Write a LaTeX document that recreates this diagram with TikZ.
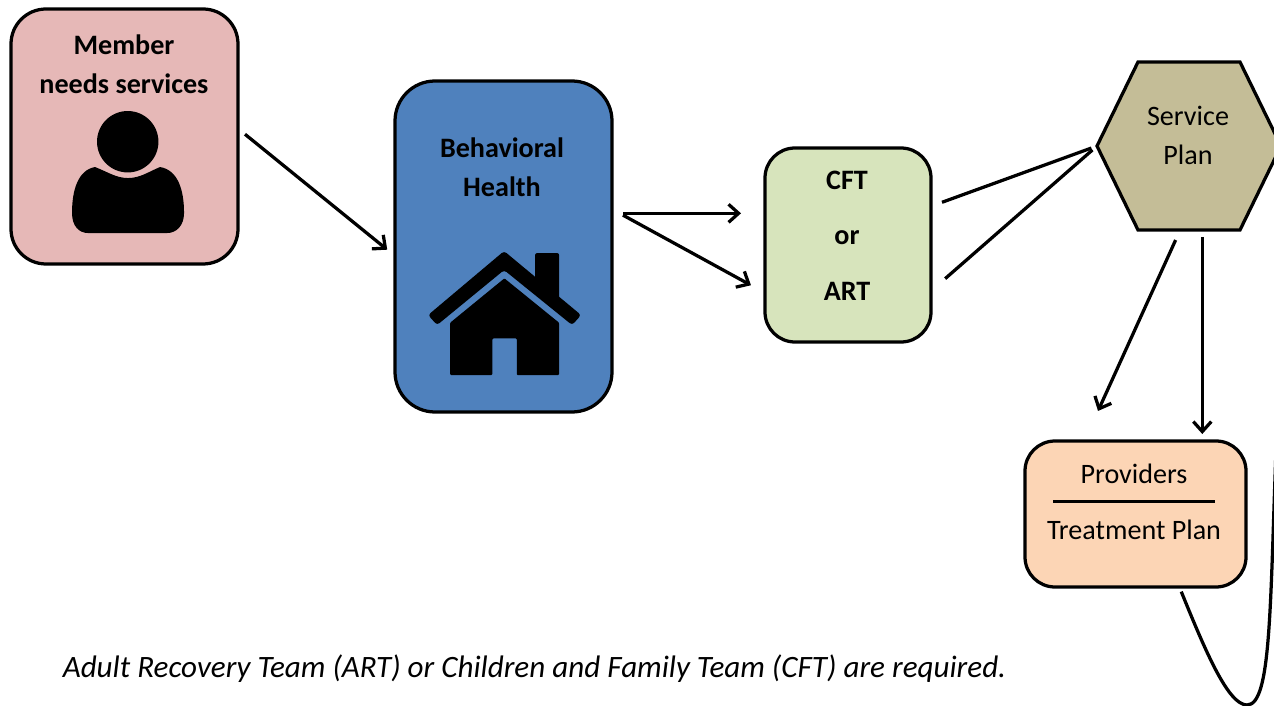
\documentclass[tikz,border=0pt]{standalone}
\usepackage{fontspec}
\setmainfont{Carlito}
\usetikzlibrary{arrows.meta, positioning}
\definecolor{memberpink}{HTML}{E6B8B7}
\definecolor{healthblue}{HTML}{4F81BD}
\definecolor{teamgreen}{HTML}{D7E4BC}
\definecolor{plantan}{HTML}{C4BD97}
\definecolor{providerpeach}{HTML}{FCD5B5}
\tikzset{
	>={Straight Barb[length=0.2cm,width=0.36cm,line width=0.065cm]},
	box/.style={draw,line width=0.065cm,rounded corners=0.7cm,outer sep=0pt,inner sep=0pt},
	link/.style={line width=0.065cm},
	boldtext/.style={align=center,font=\fontsize{16}{22.2}\selectfont\bfseries},
	plaintext/.style={align=center,font=\fontsize{16}{22.2}\selectfont}
}

\begin{document}
\begin{tikzpicture}
	\path[use as bounding box,clip] (0cm,0cm) rectangle (25.48cm,-14.12cm);

	\draw (2.49cm,-2.73cm) node[box,fill=memberpink,minimum width=4.54cm,minimum height=5.1cm] (member){}
	(10.07cm,-4.93cm) node[box,fill=healthblue,rounded corners=0.8cm,minimum width=4.34cm,minimum height=6.62cm] (behavioral){}
	(16.96cm,-4.9cm) node[box,fill=teamgreen,rounded corners=0.6cm,minimum width=3.32cm,minimum height=3.88cm] (cft){}
	(23.78cm,-2.92cm) node[outer sep=0pt,inner sep=0pt,minimum width=3.68cm,minimum height=3.36cm] (service){}
	(22.71cm,-10.28cm) node[box,fill=providerpeach,rounded corners=0.6cm,minimum width=4.42cm,minimum height=2.92cm] (providers){};

	% hexagon round the service node
	\draw[link,fill=plantan] (service.west) -- ([xshift=0.82cm]service.north west) -- ([xshift=-0.82cm]service.north east) -- (service.east)
	-- ([xshift=-0.82cm]service.south east) -- ([xshift=0.82cm]service.south west) -- cycle;

	\node[boldtext] (membertext) at (2.48cm,-1.28cm) {Member\\needs services};
	\node[boldtext] (behavioraltext) at (10.04cm,-3.34cm) {Behavioral\\Health};
	\node[boldtext] (cfttext) at (16.94cm,-3.6cm) {CFT};
	\node[boldtext] (ortext) at (16.94cm,-4.76cm) {or};
	\node[boldtext] (arttext) at (16.94cm,-5.82cm) {ART};
	\node[plaintext] (servicetext) at (23.76cm,-2.71cm) {Service\\Plan};
	\node[plaintext] (providerstext) at (22.68cm,-9.48cm) {Providers};
	\node[fill=black,inner sep=0pt,minimum width=3.24cm,minimum height=0.05cm] (divider) at (22.68cm,-10.03cm) {};
	\node[plaintext] (treatmenttext) at (22.68cm,-10.6cm) {Treatment Plan};
	\node[plaintext,font=\fontsize{17.7}{22.2}\selectfont\itshape] (caption) at (10.69cm,-13.38cm) {Adult Recovery Team (ART) or Children and Family Team (CFT) are required.};

	% person and house
	\begin{scope}[x=0.02cm,y=-0.02cm]
		\fill (127.7,141.7) circle (30.7);
		\fill (95,167) .. controls (108,172) and (116,178) .. (128,178)
		.. controls (140,178) and (148,172) .. (160,167)
		.. controls (178,170) and (184,190) .. (184,213)
		.. controls (184,226) and (176,233) .. (167,233)
		-- (88,233) .. controls (79,233) and (72,226) .. (72,213)
		.. controls (72,190) and (78,170) .. (95,167) -- cycle;
		\fill[rounded corners=0.04cm] (535,253) -- (559,253) -- (559,300) -- (535,280) -- cycle;
		\fill[rounded corners=0.06cm] (428,315) -- (504,251) -- (581,315) -- (572,325) -- (504,270) -- (437,325) -- cycle;
		\fill[rounded corners=0.02cm] (504.3,278.3) -- (559,322.7) -- (559,375) -- (516.7,375) -- (516.7,338.3) -- (492.3,338.3) -- (492.3,375) -- (450,375) -- (450,322.7) -- cycle;
	\end{scope}

	\draw[->,link,shorten <=0.18cm,shorten >=0.2cm] (member.4.3) -- (behavioral.185.8);
	\draw[->,link,shorten <=0.22cm,shorten >=0.48cm] (behavioral.17.2) -- (behavioral.17.2 -| cft.west);
	\draw[->,link,shorten <=0.25cm,shorten >=0.32cm] (behavioral.19.6) -- (cft.210);
	\draw[link,shorten <=0.234cm,shorten >=0.12cm] (cft.25.2) -- (service.west);
	\draw[link,shorten <=0.376cm,shorten >=0.12cm] (cft.-29.8) -- (service.west);
	\draw[->,link,shorten <=0.22cm,shorten >=0.66cm] (service.264.3) -- (providers.125.7);
	\draw[->,link,shorten <=0.14cm,shorten >=0.14cm] (service.-81.87) -- (service.-81.87 |- providers.north);

	\coordinate (looplow) at (24.94cm,-14.1cm);
	\coordinate (loopend) at (25.52cm,-9cm);
	\draw[link,shorten <=0.1cm] (providers.-59.8) .. controls (24.1cm,-13cm) and (24.56cm,-14.1cm) .. (looplow)
	.. controls (25.42cm,-14.1cm) and (25.4cm,-12.2cm) .. (loopend);
\end{tikzpicture}
\end{document}
